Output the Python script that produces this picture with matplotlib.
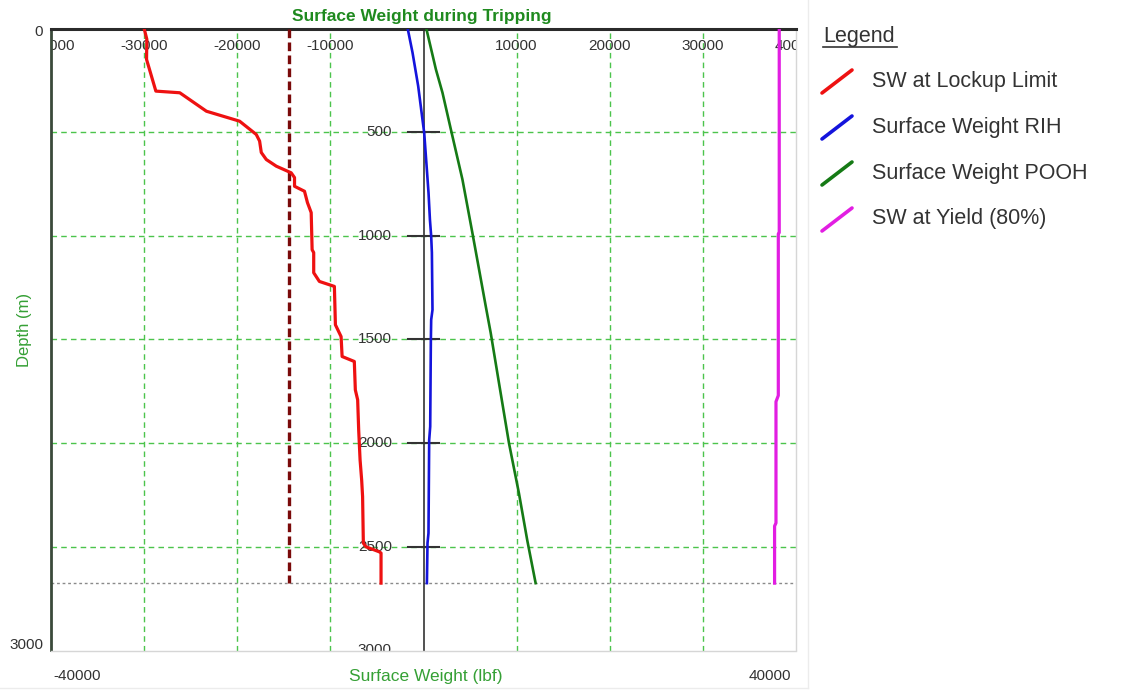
import matplotlib
matplotlib.use("Agg")
import matplotlib.pyplot as plt
from matplotlib import transforms
from matplotlib.lines import Line2D

plt.rcParams['font.family'] = ['Liberation Sans', 'DejaVu Sans']

# ---- data -----------------------------------------------------------------
total_depth = 2675  # m, bottom of string

lockup_weight = [-30000, -29710, -29740, -28740, -26170, -23310, -19750, -17960,
                 -17600, -17420, -16880, -15810, -14210, -13850, -13850, -12780,
                 -12460, -12060, -11960, -11790, -11790, -11180, -9570, -9460,
                 -8850, -8740, -7430, -7320, -7070, -6960, -6810, -6640, -6540,
                 -6460, -6170, -4750, -4560, -4560]
lockup_depth = [0, 52, 149, 302, 310, 399, 447, 511, 543, 598, 632, 664, 696,
                719, 761, 785, 840, 888, 1067, 1081, 1178, 1220, 1244, 1429,
                1486, 1582, 1606, 1743, 1791, 1937, 2081, 2178, 2258, 2482,
                2500, 2524, 2530, 2675]

rih_weight = [-1700, -1180, -570, -110, 75, 360, 540, 690, 825, 900, 965, 825,
              790, 720, 610, 535, 430, 365]
rih_depth = [0, 116, 278, 439, 503, 680, 793, 922, 1002, 1081, 1357, 1405,
             1502, 1920, 1985, 2434, 2482, 2675]

pooh_weight = [300, 1330, 2040, 2940, 4180, 5250, 5970, 6690, 7220, 8110, 9180,
               10250, 11140, 12040]
pooh_depth = [0, 197, 310, 487, 728, 986, 1163, 1341, 1469, 1711, 2000, 2242,
              2468, 2675]

yield_weight = [38200, 38200, 38100, 38100, 37850, 37850, 37700, 37700]
yield_depth = [0, 985, 990, 1770, 1800, 2385, 2400, 2675]

buckling_limit = -14400  # lbf, constant limit line

x_ticks = [-40000, -30000, -20000, -10000, 10000, 20000, 30000, 40000]
depth_ticks = [500, 1000, 1500, 2000, 2500, 3000]
legend_labels = ["SW at Lockup Limit", "Surface Weight RIH",
                 "Surface Weight POOH", "SW at Yield (80%)"]

# ---- style ----------------------------------------------------------------
C_RED = '#ee1111'
C_BLUE = '#1414dc'
C_GREEN = '#157a15'
C_MAG = '#e21ee2'
C_LIMIT = '#7a0a0a'
C_GRID = '#4cc44c'
C_TEXT = '#333333'
C_TITLE = '#1f8a1f'
C_LABEL = '#35a035'
TICK_FS = 11

W, H = 1141, 698
fig = plt.figure(figsize=(W / 100, H / 100), dpi=100)


def fx(px):
    return px / W


def fy(py):
    return 1 - py / H


ax_l, ax_r, ax_t, ax_b = 51, 796, 28.5, 650.5
ax = fig.add_axes([fx(ax_l), fy(ax_b), fx(ax_r - ax_l), (ax_b - ax_t) / H])
ax.set_xlim(-40000, 40000)
ax.set_ylim(3000, 0)
ax.set_xticks([])
ax.set_yticks([])

for side in ('right', 'bottom'):
    ax.spines[side].set_color('#d6d6d6')
    ax.spines[side].set_linewidth(1.0)
ax.spines['top'].set_color('#2a2a2a')
ax.spines['top'].set_linewidth(2.2)
ax.spines['left'].set_color('#3a4a3a')
ax.spines['left'].set_linewidth(2.0)

# grid
for xv in x_ticks[1:-1]:
    ax.axvline(xv, color=C_GRID, lw=1.0, ls=(0, (4, 3)), zorder=1)
for d in depth_ticks[:-1]:
    ax.axhline(d, color=C_GRID, lw=1.0, ls=(0, (4, 3)), zorder=1)

# zero axis with depth ticks
ax.axvline(0, color='#333333', lw=1.2, zorder=2)
for d in depth_ticks[:-1]:
    ax.plot([-1650, 1650], [d, d], color='#333333', lw=1.5, zorder=2)

# bottom-of-string marker
ax.axhline(total_depth, color='#8a8a8a', lw=1.0, ls=(0, (2, 2)), zorder=1)

# tick labels drawn inside the plot area
xt = transforms.blended_transform_factory(ax.transData, ax.transAxes)
for xv in x_ticks:
    ax.text(xv, 0.9725, f"{xv}", transform=xt, ha='center', va='center',
            fontsize=TICK_FS, color=C_TEXT, clip_on=True, zorder=2)
for d in depth_ticks:
    ax.text(-3400, d, f"{d}", ha='right', va='center', fontsize=TICK_FS,
            color=C_TEXT, clip_on=True, zorder=2)

# series
ax.plot([buckling_limit, buckling_limit], [0, total_depth], color=C_LIMIT,
        lw=2.4, ls=(0, (2.6, 1.3)), zorder=3)
ax.plot(lockup_weight, lockup_depth, color=C_RED, lw=2.3, zorder=4)
ax.plot(rih_weight, rih_depth, color=C_BLUE, lw=1.9, zorder=4)
ax.plot(pooh_weight, pooh_depth, color=C_GREEN, lw=1.9, zorder=4)
ax.plot(yield_weight, yield_depth, color=C_MAG, lw=2.3, zorder=4)

# titles and outer labels
fig.text(fx(422), fy(16), "Surface Weight during Tripping", ha='center',
         va='center', fontsize=12.5, fontweight='bold', color=C_TITLE)
fig.text(fx(426), fy(676), "Surface Weight (lbf)", ha='center', va='center',
         fontsize=12.5, color=C_LABEL)
fig.text(fx(25), fy(330), "Depth (m)", ha='center', va='center',
         rotation=90, fontsize=12, color=C_LABEL)
fig.text(fx(43), fy(32.5), "0", ha='right', va='center', fontsize=TICK_FS,
         color=C_TEXT)
fig.text(fx(43), fy(645), "3000", ha='right', va='center', fontsize=TICK_FS,
         color=C_TEXT)
fig.text(fx(53), fy(676), "-40000", ha='left', va='center', fontsize=TICK_FS,
         color=C_TEXT)
fig.text(fx(791), fy(676), "40000", ha='right', va='center', fontsize=TICK_FS,
         color=C_TEXT)

# faint frame around the chart area
fig.add_artist(Line2D([fx(808), fx(808)], [fy(0), fy(688)], color='#ececec',
                      lw=1.0, transform=fig.transFigure))
fig.add_artist(Line2D([fx(0), fx(808)], [fy(688), fy(688)], color='#ececec',
                      lw=1.0, transform=fig.transFigure))

# legend panel
fig.text(fx(823), fy(36.5), "Legend", ha='left', va='center',
         fontsize=15.5, color=C_TEXT)
fig.add_artist(Line2D([fx(823), fx(897)], [fy(47), fy(47)], color=C_TEXT,
                      lw=1.2, transform=fig.transFigure))
for i, (lab, col) in enumerate(zip(legend_labels, [C_RED, C_BLUE, C_GREEN, C_MAG])):
    yc = 81 + i * 46
    fig.add_artist(Line2D([fx(822), fx(852)], [fy(yc + 12), fy(yc - 11)],
                          color=col, lw=2.6, transform=fig.transFigure,
                          solid_capstyle='round'))
    fig.text(fx(872), fy(yc), lab, ha='left', va='center', fontsize=15.5,
             color=C_TEXT)

fig.savefig("out.png", dpi=100)
